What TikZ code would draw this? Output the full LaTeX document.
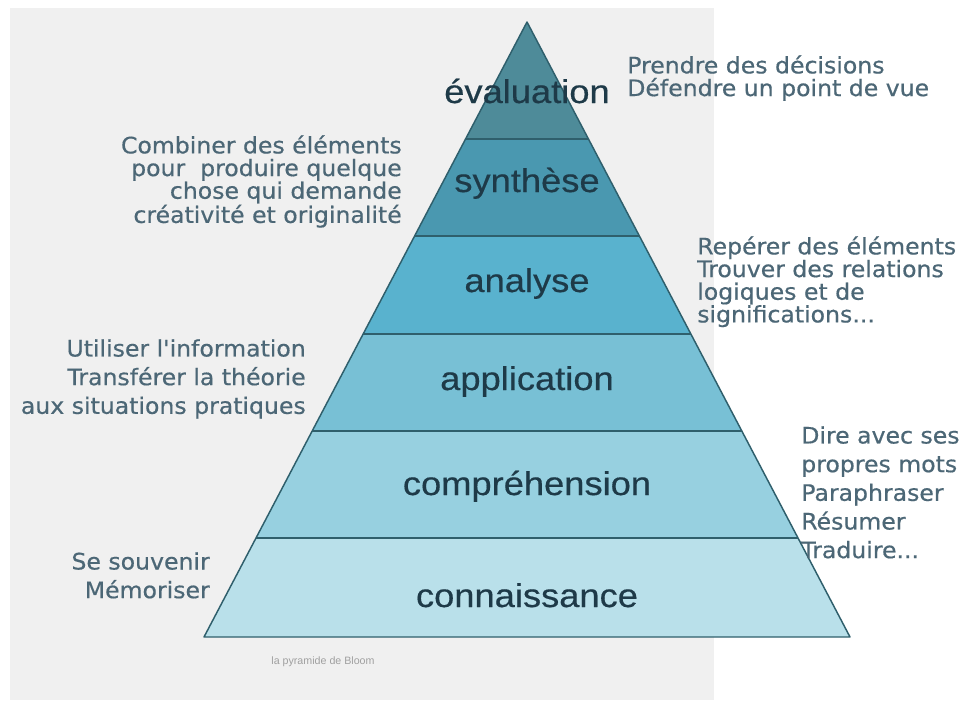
\documentclass[tikz,border=0pt]{standalone}
\usepackage{fontspec}
\setmainfont{Liberation Sans}
\newfontfamily\sidefont{DejaVu Sans}[FakeBold=0.5]
\newfontfamily\lvlfont{Liberation Sans}[FakeBold=0.4]
\usetikzlibrary{calc}
\definecolor{bgc}{HTML}{F0F0F0}
\definecolor{cA}{HTML}{4E8B99}
\definecolor{cB}{HTML}{4A98B0}
\definecolor{cC}{HTML}{59B2CE}
\definecolor{cD}{HTML}{78C0D5}
\definecolor{cE}{HTML}{97D0E0}
\definecolor{cF}{HTML}{B9E0EA}
\definecolor{edgec}{HTML}{2F5F6C}
\definecolor{lvlc}{HTML}{1E3A48}
\definecolor{sidec}{HTML}{4C6776}
\definecolor{capc}{HTML}{A0A0A0}
\begin{document}
\begin{tikzpicture}[x=0.75pt,y=-0.75pt,
  edge/.style={draw=edgec, line width=1.1pt, line join=round},
  lvl/.style={font=\lvlfont\fontsize{24.75}{28}\selectfont, text=lvlc, anchor=base, inner sep=0pt, xscale=1.1},
  side/.style={font=\sidefont\fontsize{17}{17}\selectfont, text=sidec, inner sep=0pt, xscale=1.04},
  sidelo/.style={font=\sidefont\fontsize{17}{21.5}\selectfont, text=sidec, inner sep=0pt, xscale=1.04},
  capstyle/.style={font=\fontsize{8}{9}\selectfont, text=capc, inner sep=0pt}]
\useasboundingbox (0,0) rectangle (962,700);
\fill[white] (0,0) rectangle (962,700);
\fill[bgc] (10,8) rectangle (714,700);
\coordinate (A) at (527,22);
\coordinate (BL) at (204,637);
\coordinate (BR) at (850,637);
\foreach \n/\t in {1/0.1902,2/0.348,3/0.5073,4/0.665,5/0.839}{
  \coordinate (L\n) at ($(A)!\t!(BL)$);
  \coordinate (R\n) at ($(A)!\t!(BR)$);
}
\fill[cA] (A) -- (L1) -- (R1) -- cycle;
\fill[cB] (L1) -- (L2) -- (R2) -- (R1) -- cycle;
\fill[cC] (L2) -- (L3) -- (R3) -- (R2) -- cycle;
\fill[cD] (L3) -- (L4) -- (R4) -- (R3) -- cycle;
\fill[cE] (L4) -- (L5) -- (R5) -- (R4) -- cycle;
\fill[cF] (L5) -- (BL) -- (BR) -- (R5) -- cycle;
\draw[edge] (A) -- (BL) -- (BR) -- cycle;
\foreach \n in {1,...,5}{\draw[edge] (L\n) -- (R\n);}
\node[lvl] (ev) at (527,103) {évaluation};
\node[lvl] (sy) at (527,192) {synthèse};
\node[lvl] (an) at (527,292) {analyse};
\node[lvl] (ap) at (527,390) {application};
\node[lvl] (co) at (527,495) {compréhension};
\node[lvl] (cn) at (527,607) {connaissance};
\node[side, align=left, anchor=north west] (tpd) at (627,55) {Prendre des décisions\\Défendre un point de vue};
\node[side, align=left, anchor=north west] (trep) at (697,236) {Repérer des éléments\\Trouver des relations\\logiques et de\\significations...};
\node[sidelo, align=left, anchor=north west] (tdire) at (801,426) {Dire avec ses\\propres mots\\Paraphraser\\Résumer\\Traduire...};
\node[side, align=right, anchor=north east] (tcomb) at (402,135) {Combiner des éléments\\pour\ \ produire quelque\\chose qui demande\\créativité et originalité};
\node[sidelo, align=right, anchor=north east] (tutil) at (306,339) {Utiliser l'information\\Transférer la théorie\\aux situations pratiques};
\node[sidelo, align=right, anchor=north east] (tse) at (210,552) {Se souvenir\\Mémoriser};
\node[capstyle] (caption) at (323,662) {la pyramide de Bloom};
\end{tikzpicture}
\end{document}
